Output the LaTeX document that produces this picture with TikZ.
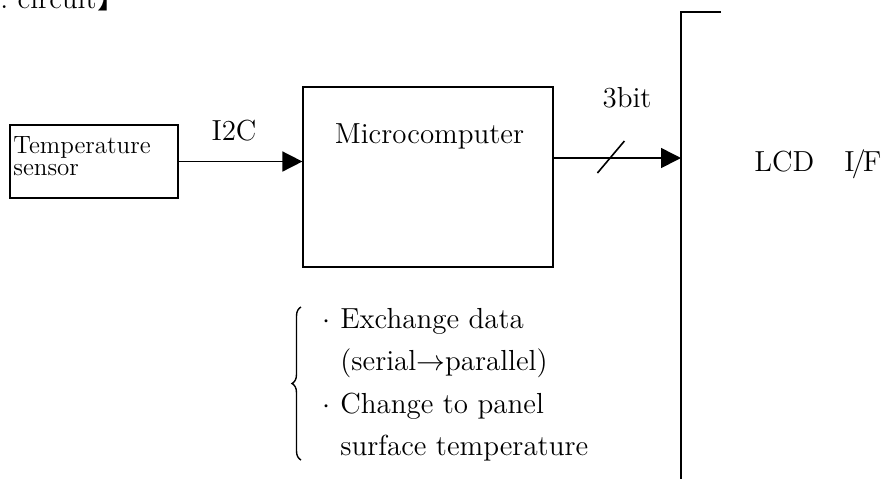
\documentclass[tikz,border=0pt]{standalone}
\usepackage{fontspec}
\newfontfamily\cjkfont{Noto Sans CJK JP}
\usetikzlibrary{arrows.meta,calc,decorations.pathreplacing}

\begin{document}
\begin{tikzpicture}[x=0.5pt, y=-0.5pt,
    >={Triangle[length=10pt,width=10pt]},
    box/.style={draw, line width=0.6pt, inner sep=0pt},
    sig/.style={->, line width=0.8pt},
    lbl/.style={inner sep=0pt, font=\fontsize{14.5}{17}\selectfont}]
    \useasboundingbox (0,0) rectangle (885,479);
    \clip (0,0) rectangle (885,479);

    % heading, cut off by the top edge
    \node[lbl, anchor=base east] (title) at (97,8) {r.\ circuit};
    \node[inner sep=0pt, anchor=base west, font=\cjkfont\fontsize{14.5}{17}\selectfont] (titlebr) at (title.base east) {】};

    % blocks
    \node[box, minimum width=84pt, minimum height=36.5pt] (sensor) at (94,161.5) {};
    \node[inner sep=0pt, anchor=north west, align=left, font=\fontsize{12.5}{11}\selectfont] (sensortxt) at (13,136) {Temperature\\sensor};

    \node[box, minimum width=125pt, minimum height=90pt] (mcu) at (428,177) {};
    \node[lbl, anchor=base] (mcutxt) at (429.5,143) {Microcomputer};

    % LCD interface edge
    \coordinate (lcdtop) at (681,12);
    \coordinate (lcdin) at (681,158);
    \coordinate (lcdend) at (721,12);
    \coordinate (lcdbot) at (681,479);
    \draw[line width=1pt] (lcdend) -- (lcdtop) -- (lcdbot);
    \node[lbl, anchor=base west] (lcd) at (754,171) {LCD\hspace{15pt}I\kern-1.5pt/\kern-1.5pt F};

    % connections
    \draw[sig] (sensor.east) -- (sensor.east -| mcu.west);
    \node[lbl, anchor=base] (i2c) at (234,140) {I2C};

    \draw[sig] (mcu.east |- lcdin) -- (lcdin);
    \coordinate (slash) at ($(mcu.east |- lcdin)!0.45!(lcdin)$);
    \draw[line width=0.8pt] (slash) +(-13.5,15) -- +(13.5,-17);
    \node[lbl, anchor=base] (bus) at (627,107) {3bit};

    % what the microcomputer does
    \draw[decorate, decoration={brace, amplitude=4.5pt}, line width=0.7pt] (301,460) -- (301,307);
    \node[lbl, anchor=north west, align=left, font=\fontsize{14.5}{21.2}\selectfont] (note) at (340,308)
        {\llap{$\cdot$\hspace{5pt}}Exchange data\\
         (serial$\to$parallel)\\
         \llap{$\cdot$\hspace{5pt}}Change to panel\\
         surface temperature};
\end{tikzpicture}
\end{document}
